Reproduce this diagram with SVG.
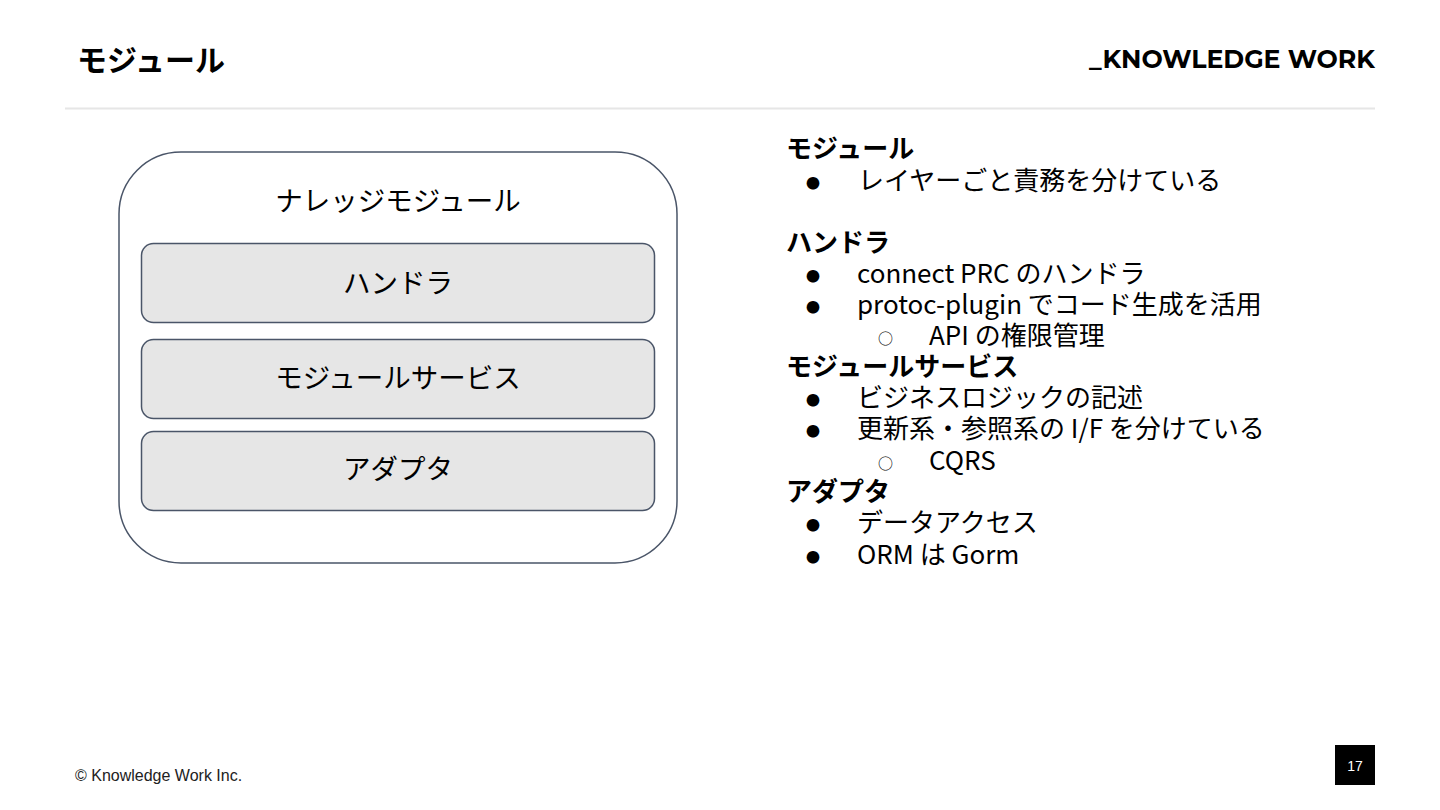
<svg xmlns="http://www.w3.org/2000/svg" width="1440" height="810" viewBox="0 0 1440 810">
<style>
.jp{font-family:"Noto Sans CJK JP","Noto Sans",sans-serif;fill:#000}
.h{font-size:26px;font-weight:bold}
.b{font-size:26px}
.dot{font-family:"Noto Sans CJK JP",sans-serif;font-size:14px;fill:#000}
.ring{font-family:"Noto Sans CJK JP",sans-serif;font-size:15px;fill:#000}
.lbl{font-size:27.5px;text-anchor:middle}
.layer{fill:#e6e6e6;stroke:#4a5568;stroke-width:1.5}
</style>
<rect width="1440" height="810" fill="#fff"/>
<text x="77" y="71" class="jp" font-size="30" font-weight="bold">モジュール</text>
<text x="1089" y="68" font-family="Montserrat,'Liberation Sans',sans-serif" font-size="26" font-weight="bold" textLength="286" lengthAdjust="spacingAndGlyphs">_KNOWLEDGE WORK</text>
<line x1="65" y1="108.5" x2="1375" y2="108.5" stroke="#e6e6e6" stroke-width="2"/>

<g id="knowledge-module">
<rect x="119" y="152" width="558" height="411" rx="62" fill="#fff" stroke="#4a5568" stroke-width="1.5"/>
<text x="398" y="211" class="jp lbl">ナレッジモジュール</text>
</g>
<g id="handler">
<rect x="141.5" y="243.5" width="513" height="79" rx="12" class="layer"/>
<text x="398" y="293" class="jp lbl">ハンドラ</text>
</g>
<g id="module-service">
<rect x="141.5" y="339.5" width="513" height="79" rx="12" class="layer"/>
<text x="398" y="388" class="jp lbl">モジュールサービス</text>
</g>
<g id="adapter">
<rect x="141.5" y="431.5" width="513" height="79" rx="12" class="layer"/>
<text x="398" y="479" class="jp lbl">アダプタ</text>
</g>
<g id="connectors"/>

<g id="notes" class="jp">
<text x="786" y="158" class="h">モジュール</text>
<text x="806" y="188" class="dot">●</text><text x="858" y="190" class="b">レイヤーごと責務を分けている</text>
<text x="786" y="252" class="h">ハンドラ</text>
<text x="806" y="281" class="dot">●</text><text x="857" y="283" class="b">connect PRC のハンドラ</text>
<text x="806" y="312" class="dot">●</text><text x="857" y="314" class="b">protoc-plugin でコード生成を活用</text>
<text x="878" y="344" class="ring">○</text><text x="929" y="345" class="b">API の権限管理</text>
<text x="786" y="376" class="h">モジュールサービス</text>
<text x="806" y="405" class="dot">●</text><text x="857" y="407" class="b">ビジネスロジックの記述</text>
<text x="806" y="436" class="dot">●</text><text x="857" y="438" class="b">更新系・参照系の I/F を分けている</text>
<text x="878" y="469" class="ring">○</text><text x="929" y="470" class="b">CQRS</text>
<text x="786" y="501" class="h">アダプタ</text>
<text x="806" y="530" class="dot">●</text><text x="857" y="532" class="b">データアクセス</text>
<text x="806" y="562" class="dot">●</text><text x="857" y="564" class="b">ORM は Gorm</text>
</g>

<text x="75" y="781" font-family="'Liberation Sans',Arial,sans-serif" font-size="16" fill="#222">© Knowledge Work Inc.</text>
<rect x="1335" y="745" width="40" height="40" fill="#000"/>
<text x="1355" y="771" font-family="'Liberation Sans',Arial,sans-serif" font-size="14" fill="#fff" text-anchor="middle">17</text>
</svg>
